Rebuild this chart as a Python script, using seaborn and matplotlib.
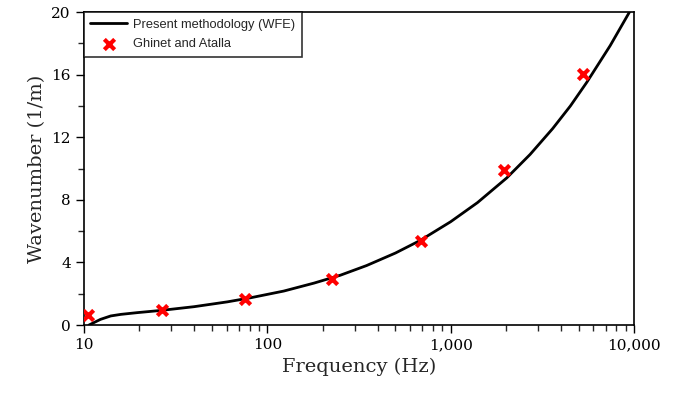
import numpy as np
import pandas as pd
import matplotlib
matplotlib.use("Agg")
import matplotlib.pyplot as plt
import seaborn as sns
from matplotlib.ticker import FuncFormatter, MultipleLocator, LogLocator, NullFormatter

# Present methodology (WFE) curve
wfe_freq = [10.65, 12.3, 14.0, 15.9, 19.5, 26.2, 39.8, 60.6, 81, 123, 180, 250,
            348, 500, 681, 1000, 1400, 2023, 2712, 3600, 4500, 5520, 7413, 9450]
wfe_k = [0.0, 0.36, 0.58, 0.68, 0.79, 0.93, 1.17, 1.48, 1.74, 2.17, 2.68, 3.18,
         3.8, 4.6, 5.4, 6.6, 7.82, 9.4, 10.9, 12.55, 14.0, 15.5, 17.85, 20.0]

# Ghinet and Atalla reference points
ref_freq = [10.5, 26.7, 75.5, 224, 689, 1955, 5250]
ref_k = [0.66, 0.96, 1.66, 2.96, 5.39, 9.9, 16.04]

sns.set_style("ticks")
plt.rcParams['font.family'] = ['DejaVu Serif']

fig = plt.figure(figsize=(6.84, 3.94), dpi=100)
ax = fig.add_axes([0.1228, 0.1751, 0.8041, 0.7944])

wfe = pd.DataFrame({'f': wfe_freq, 'k': wfe_k})
ref = pd.DataFrame({'f': ref_freq, 'k': ref_k})

sns.lineplot(data=wfe, x='f', y='k', color='black', linewidth=2.0,
             label='Present methodology (WFE)', ax=ax, zorder=2)
sns.scatterplot(data=ref, x='f', y='k', color='#ff0000', marker='x', s=55,
                linewidth=3.0, label='Ghinet and Atalla', ax=ax, zorder=3)

ax.set_xscale('log')
ax.set_xlim(10, 10000)
ax.set_ylim(0, 20)
ax.yaxis.set_major_locator(MultipleLocator(4))
ax.yaxis.set_minor_locator(MultipleLocator(2))
ax.xaxis.set_major_locator(LogLocator(base=10))
ax.xaxis.set_minor_locator(LogLocator(base=10, subs=np.arange(2, 10)))
ax.xaxis.set_major_formatter(FuncFormatter(lambda v, p: f"{v:,.0f}"))
ax.xaxis.set_minor_formatter(NullFormatter())

ax.tick_params(axis='both', which='major', direction='out', length=6, width=1,
               labelsize=11, colors='black')
ax.tick_params(axis='both', which='minor', direction='out', length=4, width=1)

for s in ax.spines.values():
    s.set_visible(True)
    s.set_color('black')
    s.set_linewidth(1.2)

ax.set_xlabel('Frequency (Hz)', fontsize=14)
ax.set_ylabel('Wavenumber (1/m)', fontsize=14)

leg = ax.legend(loc='upper left', borderaxespad=0, frameon=True, fancybox=False,
                edgecolor='black', prop={'family': 'Liberation Sans', 'size': 9.3},
                handlelength=2.8, handletextpad=0.5, borderpad=0.5, labelspacing=0.6)
leg.get_frame().set_linewidth(1.2)

fig.savefig('out.png', dpi=100)
